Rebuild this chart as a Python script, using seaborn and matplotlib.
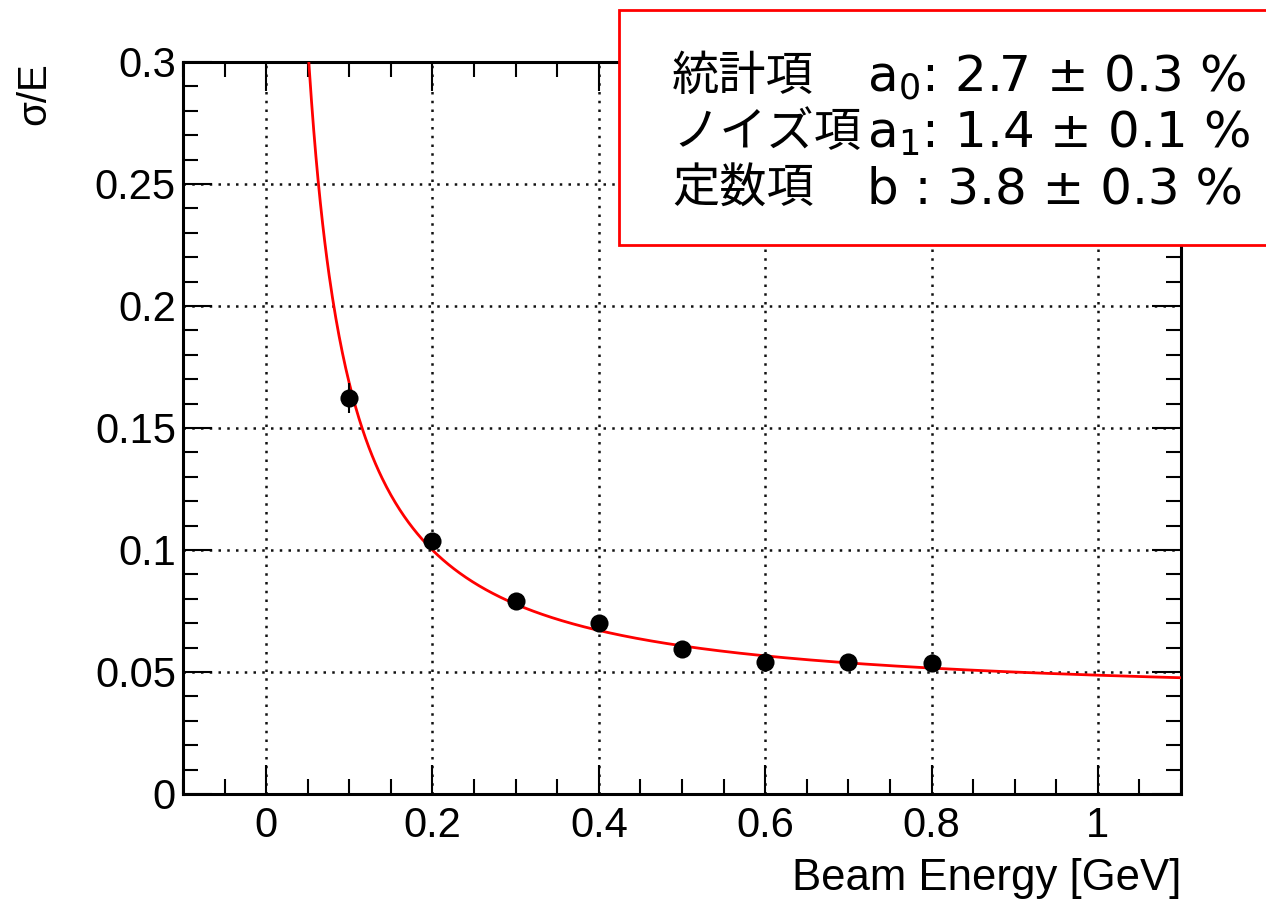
import numpy as np
import pandas as pd
import matplotlib
matplotlib.use("Agg")
import matplotlib.pyplot as plt
from matplotlib.patches import Rectangle
from matplotlib.ticker import MultipleLocator
import seaborn as sns

# ---- data ----
beam_energy = [0.1, 0.2, 0.3, 0.4, 0.5, 0.6, 0.7, 0.8]
sigma_over_e = [0.1623, 0.1037, 0.0791, 0.0701, 0.0594, 0.0541, 0.0541, 0.0537]
sigma_err = [0.006, 0.002, 0.0015, 0.0012, 0.001, 0.001, 0.001, 0.001]

# fit parameters (from the legend)
a0 = 0.027
a1 = 0.014
b_const = 0.038

legend_names = ["統計項", "ノイズ項", "定数項"]
legend_values = ["a$_0$: 2.7 ± 0.3 %", "a$_1$: 1.4 ± 0.1 %", "b : 3.8 ± 0.3 %"]

x_ticks = [0, 0.2, 0.4, 0.6, 0.8, 1]
x_ticklabels = ["0", "0.2", "0.4", "0.6", "0.8", "1"]
y_ticks = [0, 0.05, 0.1, 0.15, 0.2, 0.25, 0.3]
y_ticklabels = ["0", "0.05", "0.1", "0.15", "0.2", "0.25", "0.3"]

xlabel = "Beam Energy [GeV]"
ylabel = "σ/E"

sns.set_theme(style="ticks")
plt.rcParams['font.family'] = ['Liberation Sans', 'DejaVu Sans']
plt.rcParams['text.color'] = 'black'
plt.rcParams['axes.labelcolor'] = 'black'
plt.rcParams['xtick.color'] = 'black'
plt.rcParams['ytick.color'] = 'black'

fig = plt.figure(figsize=(12.66, 9.05), dpi=100)
ax = fig.add_axes([0.1445, 0.1227, 0.7884, 0.8088])

# fit curve
xf = np.linspace(0.04, 1.1, 800)
yf = np.sqrt((a0 / np.sqrt(xf)) ** 2 + (a1 / xf) ** 2 + b_const ** 2)
fit_df = pd.DataFrame({"E": xf, "res": yf})
sns.lineplot(data=fit_df, x="E", y="res", ax=ax, color="#ff0000", lw=2.0, zorder=4)

df = pd.DataFrame({"E": beam_energy, "res": sigma_over_e, "err": sigma_err})
ax.errorbar(df["E"], df["res"], yerr=df["err"], fmt="none", ecolor="black",
            elinewidth=1.5, zorder=5)
sns.scatterplot(data=df, x="E", y="res", ax=ax, color="black", s=170,
                edgecolor="black", linewidth=0, zorder=6)

ax.set_xlim(-0.1, 1.1)
ax.set_ylim(0, 0.3)
ax.set_xticks(x_ticks)
ax.set_xticklabels(x_ticklabels)
ax.set_yticks(y_ticks)
ax.set_yticklabels(y_ticklabels)
ax.xaxis.set_minor_locator(MultipleLocator(0.05))
ax.yaxis.set_minor_locator(MultipleLocator(0.01))

ax.tick_params(which="both", direction="in", top=True, right=True,
               color="black", labelsize=30, labelcolor="black")
ax.tick_params(which="major", length=21, width=1.5)
ax.tick_params(which="minor", length=11, width=1.5)
ax.tick_params(axis="x", which="major", pad=9)
ax.tick_params(axis="y", which="major", pad=5)

for s in ax.spines.values():
    s.set_linewidth(2.2)
    s.set_color("black")

ax.grid(True, which="major", color="#111111", linestyle=(0, (1, 2.5)), lw=1.8)
ax.set_axisbelow(True)

ax.set_xlabel(xlabel, fontsize=31.5, loc="right", labelpad=8)
ax.set_ylabel(ylabel, fontsize=29, loc="top")
ax.yaxis.set_label_coords(-0.13, 1.0)

# legend box
rect = Rectangle((619 / 1266, 1 - 245 / 905), 0.6, (245 - 10) / 905,
                 transform=fig.transFigure, facecolor="white",
                 edgecolor="#ff0000", lw=2.0, zorder=10, clip_on=False)
fig.patches.append(rect)

row_y = [1 - 77 / 905, 1 - 133 / 905, 1 - 189 / 905]
for name, val, yy in zip(legend_names, legend_values, row_y):
    fig.text(672 / 1266, yy, name, fontsize=34, va="center", ha="left",
             family=["Noto Sans CJK JP", "DejaVu Sans"], zorder=11, color="black")
    fig.text(867 / 1266, yy, val, fontsize=36, va="center", ha="left",
             family=["DejaVu Sans"], zorder=11, color="black")

fig.savefig("out.png", dpi=100, facecolor="white")
